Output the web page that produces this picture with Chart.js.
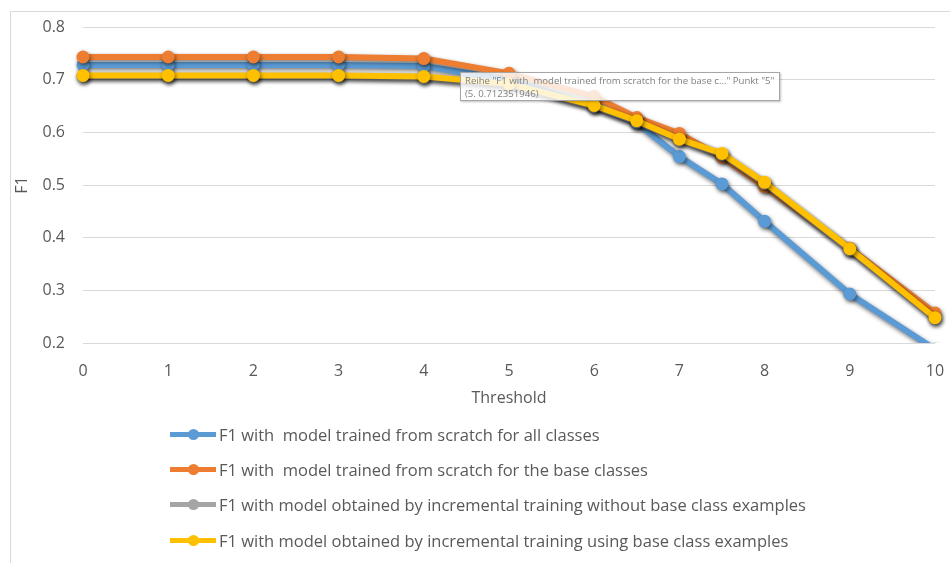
<!DOCTYPE html>
<html>
<head>
<meta charset="utf-8">
<script src="https://cdn.jsdelivr.net/npm/chart.js@4.4.0/dist/chart.umd.min.js"></script>
<style>
  html, body { margin: 0; padding: 0; background: #fff; }
  #wrap { position: relative; width: 950px; height: 563px; font-family: "Open Sans", sans-serif; }
  #frame { position: absolute; left: 10px; top: 11px; width: 960px; height: 600px; border: 1px solid #d9d9d9; }
  #legend { position: absolute; left: 170px; top: 417px; }
  .item { display: flex; align-items: center; height: 35.2px; color: #595959; font-size: 16.5px; white-space: pre; }
  .swatch { position: relative; width: 46px; height: 5px; margin-right: 3px; }
  .swatch span { position: absolute; left: 18px; top: -3px; width: 11px; height: 11px; border-radius: 50%; }
  #tip { position: absolute; left: 460px; top: 72px; width: 314px; height: 26px; padding: 1px 0 0 4px;
         border: 1px solid #a6a6a6; background: rgba(255,255,255,0.82); box-shadow: 1px 1px 2px rgba(0,0,0,0.25);
         color: #7f7f7f; font-size: 9.6px; line-height: 13px; white-space: pre; overflow: hidden; }
</style>
</head>
<body>
<div id="wrap">
  <div id="frame"></div>
  <canvas id="f1Chart" width="950" height="563"></canvas>
  <div id="legend"></div>
  <div id="tip">Reihe "F1 with  model trained from scratch for the base c..." Punkt "5"
(5. 0.712351946)</div>
</div>
<script>
// thresholds on the x axis
const thresholds = [0, 1, 2, 3, 4, 5, 6, 6.5, 7, 7.5, 8, 9, 10];

// F1 values
const scratchAll  = [0.728, 0.728, 0.728, 0.728, 0.726, 0.700, 0.650, 0.618, 0.554, 0.502, 0.431, 0.293, 0.188];
const scratchBase = [0.743, 0.743, 0.743, 0.743, 0.740, 0.712, 0.668, 0.628, 0.598, 0.553, 0.497, 0.380, 0.257];
const incrNoBase  = [0.707, 0.707, 0.707, 0.707, 0.704, 0.690, 0.649, 0.620, 0.585, 0.558, 0.503, 0.377, 0.247];
const incrBase    = [0.708, 0.708, 0.708, 0.708, 0.706, 0.692, 0.651, 0.622, 0.587, 0.560, 0.505, 0.379, 0.248];

const seriesNames = [
    'F1 with  model trained from scratch for all classes',
    'F1 with  model trained from scratch for the base classes',
    'F1 with model obtained by incremental training without base class examples',
    'F1 with model obtained by incremental training using base class examples'
];
const yTicks = [0.2, 0.3, 0.4, 0.5, 0.6, 0.7, 0.8];

const colors = ['#5b9bd5', '#ed7d31', '#a5a5a5', '#ffc000'];
const allSeries = [scratchAll, scratchBase, incrNoBase, incrBase];

function toPoints(values) {
    return values.map((v, i) => ({ x: thresholds[i], y: v }));
}

// later series drawn on top, like Excel
const datasets = allSeries.map((vals, i) => ({
    label: seriesNames[i],
    data: toPoints(vals),
    order: allSeries.length - i,
    borderColor: colors[i],
    backgroundColor: colors[i],
    borderWidth: 6,
    pointRadius: 6.5,
    pointBorderWidth: 0,
    tension: 0,
    clip: { left: false, top: false, right: false, bottom: 0 }
}));

// soft drop shadow like the Excel original
const shadowPlugin = {
    id: 'shadow',
    beforeDatasetsDraw(chart) {
        const c = chart.ctx;
        c.save();
        c.shadowColor = 'rgba(0,0,0,0.55)';
        c.shadowBlur = 4;
        c.shadowOffsetX = 1;
        c.shadowOffsetY = 2;
    },
    afterDatasetsDraw(chart) {
        chart.ctx.restore();
    }
};

const tickFont = { family: '"Open Sans", sans-serif', size: 16 };

new Chart(document.getElementById('f1Chart'), {
    type: 'line',
    data: { datasets: datasets },
    plugins: [shadowPlugin],
    options: {
        responsive: false,
        animation: false,
        layout: { padding: { left: 10, top: 27, right: 15, bottom: 155 } },
        plugins: { legend: { display: false }, tooltip: { enabled: false } },
        scales: {
            x: {
                type: 'linear',
                min: 0, max: 10,
                afterFit: s => { s.height = 65; s.paddingRight = 0; s.paddingLeft = 0; },
                grid: { display: false },
                border: { display: false },
                ticks: { stepSize: 1, color: '#595959', font: tickFont, padding: 11, maxRotation: 0 },
                title: { display: true, text: 'Threshold', color: '#595959', font: tickFont, padding: 0 }
            },
            y: {
                min: 0.2, max: 0.8,
                afterFit: s => { s.width = 73; s.paddingTop = 0; s.paddingBottom = 0; },
                afterBuildTicks: s => { s.ticks = yTicks.map(v => ({ value: v })); },
                grid: { color: '#d9d9d9', lineWidth: 1, drawTicks: false },
                border: { display: false },
                ticks: { color: '#595959', font: tickFont, padding: 18, callback: v => v.toFixed(1) },
                title: { display: true, text: 'F1', color: '#595959', font: tickFont, padding: 3 }
            }
        }
    }
});

// legend built from the datasets
const legend = document.getElementById('legend');
datasets.forEach(ds => {
    const row = document.createElement('div');
    row.className = 'item';
    row.innerHTML = '<div class="swatch" style="background:' + ds.borderColor + '"><span style="background:' +
        ds.borderColor + '"></span></div>';
    row.appendChild(document.createTextNode(ds.label));
    legend.appendChild(row);
});
</script>
</body>
</html>
